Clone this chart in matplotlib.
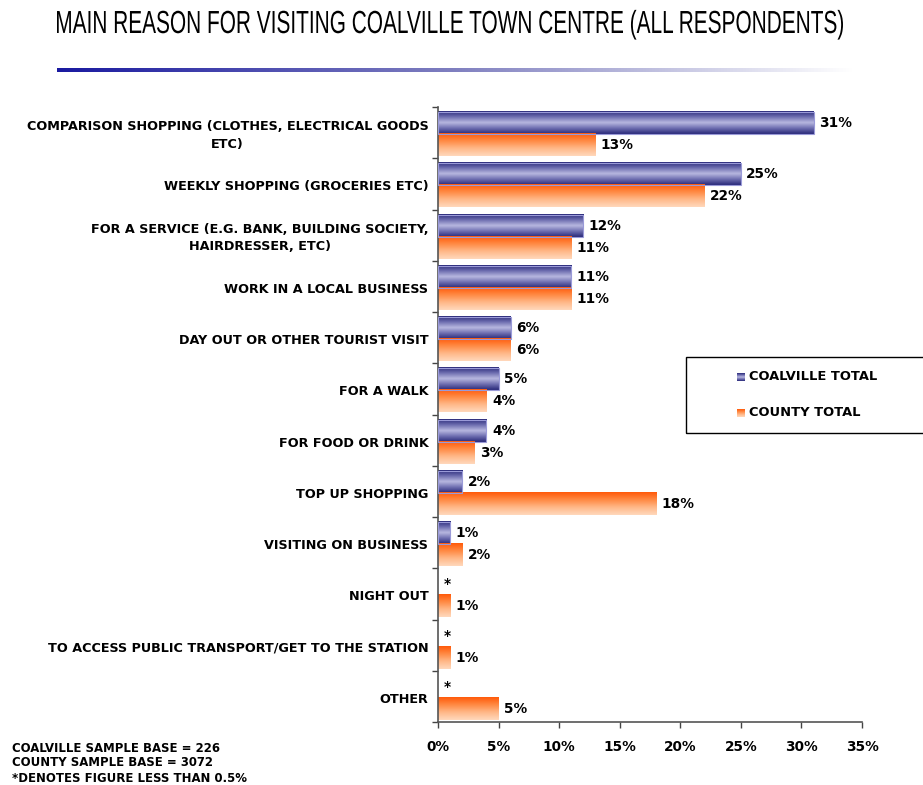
import numpy as np
import matplotlib.pyplot as plt
from matplotlib.patches import Rectangle, PathPatch
from matplotlib.colors import LinearSegmentedColormap
from matplotlib.textpath import TextPath
from matplotlib.font_manager import FontProperties
from matplotlib.transforms import Affine2D

categories = [
    'COMPARISON SHOPPING (CLOTHES, ELECTRICAL GOODS\nETC)',
    'WEEKLY SHOPPING (GROCERIES ETC)',
    'FOR A SERVICE (E.G. BANK, BUILDING SOCIETY,\nHAIRDRESSER, ETC)',
    'WORK IN A LOCAL BUSINESS',
    'DAY OUT OR OTHER TOURIST VISIT',
    'FOR A WALK',
    'FOR FOOD OR DRINK',
    'TOP UP SHOPPING',
    'VISITING ON BUSINESS',
    'NIGHT OUT',
    'TO ACCESS PUBLIC TRANSPORT/GET TO THE STATION',
    'OTHER',
]
coalville = [31, 25, 12, 11, 6, 5, 4, 2, 1, 0, 0, 0]
county = [13, 22, 11, 11, 6, 4, 3, 18, 2, 1, 1, 5]
series_names = ['COALVILLE TOTAL', 'COUNTY TOTAL']
x_ticks = [0, 5, 10, 15, 20, 25, 30, 35]
title = 'MAIN REASON FOR VISITING COALVILLE TOWN CENTRE (ALL RESPONDENTS)'
footnotes = ['COALVILLE SAMPLE BASE = 226', 'COUNTY SAMPLE BASE = 3072',
             '*DENOTES FIGURE LESS THAN 0.5%']

# vertical gradients for the bars (row 0 = bottom of the bar)
navy = LinearSegmentedColormap.from_list(
    'navy', ['#2a2a7a', '#6e6eb0', '#b8b8e0', '#6e6eb0', '#2a2a7a'])
orange = LinearSegmentedColormap.from_list(
    'orange', ['#ffd8bc', '#ffb888', '#ff8a44', '#ff5a0a'])
grad = np.linspace(0, 1, 64).reshape(-1, 1)

fig = plt.figure(figsize=(9.23, 7.85), dpi=100)
W, H = 923, 785
px = Affine2D().scale(1 / W, 1 / H) + fig.transFigure  # pixel coords, y up
ax = fig.add_axes([438 / W, 1 - 722 / H, (862 - 438) / W, (722 - 107) / H])

n = len(categories)
bar_h = 0.43
shift = -0.03  # bars sit a touch below the band centre


def gradient_bar(v, y0, y1, cmap, edge):
    if v <= 0:
        return
    ax.imshow(grad, extent=[0, v, y0, y1], origin='lower', cmap=cmap,
              aspect='auto', interpolation='bilinear', zorder=2)
    if edge:
        ax.add_patch(Rectangle((0, y0), v, y1 - y0, fill=False,
                               edgecolor='#9a9ad8', lw=0.8, zorder=3))


lab_kw = dict(fontsize=9.8, fontweight='bold', va='center', ha='left',
              family='DejaVu Sans')
for i in range(n):
    c = n - 1 - i + shift  # group centre, top category first
    gradient_bar(coalville[i], c, c + bar_h, navy, True)
    gradient_bar(county[i], c - bar_h, c, orange, False)
    top_txt = f'{coalville[i]}%' if coalville[i] > 0 else '*'
    ax.text(coalville[i] + 0.45, c + bar_h / 2, top_txt, **lab_kw)
    ax.text(county[i] + 0.45, c - bar_h / 2, f'{county[i]}%', **lab_kw)
    ax.text(-0.8, c - 0.03, categories[i], fontsize=9.2, fontweight='bold',
            ha='right', va='center', ma='center', family='DejaVu Sans',
            linespacing=1.45)

ax.set_xlim(0, 35)
ax.set_ylim(-0.5, n - 0.5)
ax.set_xticks(x_ticks)
ax.set_xticklabels([f'{t}%' for t in x_ticks], fontsize=9.8,
                   fontweight='bold')
ax.set_yticks(np.arange(n + 1) - 0.5)
ax.set_yticklabels([])
ax.tick_params(axis='both', direction='out', length=4, width=1,
               color='#444444')
ax.tick_params(axis='x', pad=9)
for s in ['top', 'right']:
    ax.spines[s].set_visible(False)
for s in ['left', 'bottom']:
    ax.spines[s].set_color('#555555')
    ax.spines[s].set_linewidth(1.2)

# title squeezed horizontally into its slot (57..843 px wide, caps 10..33 px)
tp = TextPath((0, 0), title, size=30,
              prop=FontProperties(family='Liberation Sans'))
ext = tp.get_extents()
sx = (843 - 57) / ext.width
sy = 23 / 30 / 0.72
tpath = Affine2D().translate(-ext.x0, 0).scale(sx, sy).translate(57, H - 33) \
    .transform_path(tp)
fig.patches.append(PathPatch(tpath, transform=px, facecolor='black',
                             edgecolor='none'))

# gradient rule under the title
rule = fig.add_axes([57 / W, 1 - 72 / H, (855 - 57) / W, 4 / H])
line_cmap = LinearSegmentedColormap.from_list('rule', ['#1a1aa0', '#8080c0', '#ffffff'])
rule.imshow(np.linspace(0, 1, 256).reshape(1, -1), cmap=line_cmap,
            aspect='auto', extent=[0, 1, 0, 1])
rule.axis('off')

# legend box, running off the right edge
fig.patches.append(Rectangle((686 / W, 1 - 433 / H), 300 / W, 76 / H,
                             transform=fig.transFigure, fill=False,
                             edgecolor='black', lw=1))
for k, (name, cmap) in enumerate(zip(series_names, [navy, orange])):
    yc = 377 + k * 36
    sq = fig.add_axes([737 / W, 1 - (yc + 4) / H, 8 / W, 8 / H])
    sq.imshow(grad, cmap=cmap, origin='lower', aspect='auto',
              extent=[0, 1, 0, 1])
    sq.axis('off')
    fig.text(749 / W, 1 - yc / H, name, fontsize=9.4, fontweight='bold',
             va='center', ha='left')

for k, line in enumerate(footnotes):
    fig.text(12 / W, 1 - (748 + k * 15) / H, line, fontsize=9.4,
             fontweight='bold', fontstretch='condensed', va='center',
             ha='left', family='DejaVu Sans')

fig.savefig('out.png', dpi=100)
